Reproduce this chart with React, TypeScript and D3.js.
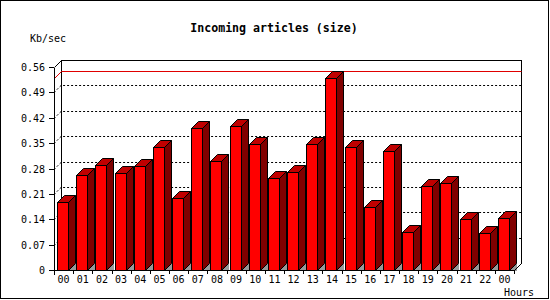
import React from "react";
import * as d3 from "d3";

const hourLabels = ["00","01","02","03","04","05","06","07","08","09","10","11","12","13","14","15","16","17","18","19","20","21","22","00"];
const sizeValues = [0.187,0.262,0.291,0.267,0.287,0.340,0.200,0.393,0.300,0.397,0.348,0.253,0.270,0.348,0.529,0.340,0.173,0.327,0.105,0.231,0.239,0.140,0.101,0.143];
const yTickValues = [0,0.07,0.14,0.21,0.28,0.35,0.42,0.49,0.56];
const yTickLabels = ["0","0.07","0.14","0.21","0.28","0.35","0.42","0.49","0.56"];

const W = 550, H = 300;
const X0 = 54, X1 = 514, Y0 = 270, YT = 67, D = 7;
const FONT = "'DejaVu Sans Mono', monospace";

export default function App() {
  const x = d3.scaleBand<number>().domain(hourLabels.map((_, i) => i)).range([X0, X1]);
  const y = d3.scaleLinear().domain([0, 0.56]).range([Y0, YT]);
  const maxV = d3.max(sizeValues) as number;
  const p = (v: number) => Math.round(v) + 0.5;

  return (
    <svg width={W} height={H} style={{ position: "absolute", left: 0, top: 0, background: "#fff" }} shapeRendering="crispEdges">
      <rect x={0.5} y={0.5} width={548} height={298} fill="#fff" stroke="#000" />
      {/* title */}
      <text x={274} y={32} textAnchor="middle" fontFamily={FONT} fontWeight="bold" fontSize={11.6} fill="#000">Incoming articles (size)</text>
      <text x={30} y={42} fontFamily={FONT} fontSize={10} fill="#000">Kb/sec</text>
      <text x={534} y={296} textAnchor="end" fontFamily={FONT} fontSize={10} fill="#000">Hours</text>

      {/* back plane */}
      <rect x={p(X0 + D)} y={p(YT - D)} width={X1 - X0} height={Y0 - YT} fill="#fff" stroke="none" />
      {/* grid lines */}
      {yTickValues.slice(1, -1).map((v, i) => (
        <polyline key={"g" + i}
          points={`${X0},${p(y(v))} ${X0 + D},${p(y(v) - D)} ${X1 + D},${p(y(v) - D)}`}
          fill="none" stroke="#000" strokeDasharray="2 2" shapeRendering="auto" />
      ))}
      {/* back plane border */}
      <polyline points={`${p(X0 + D)},${p(Y0 - D)} ${p(X0 + D)},${p(YT - D)} ${p(X1 + D)},${p(YT - D)} ${p(X1 + D)},${p(Y0 - D)}`} fill="none" stroke="#000" />
      <line x1={p(X0)} y1={p(YT)} x2={p(X0 + D)} y2={p(YT - D)} stroke="#000" shapeRendering="auto" />
      {/* max line */}
      <polyline points={`${p(X0)},${p(y(maxV))} ${p(X0 + D)},${p(y(maxV) - D)} ${p(X1 + D)},${p(y(maxV) - D)}`} fill="none" stroke="#e00000" shapeRendering="auto" />

      {/* bars */}
      {sizeValues.map((v, i) => {
        const xl = Math.round((x(i) as number) + 3) + 0.5;
        const xr = xl + 11;
        const yt = Math.round(y(v)) + 0.5;
        const yb = Y0 + 0.5;
        return (
          <g key={"b" + i} stroke="#000" strokeLinejoin="miter">
            <polygon points={`${xr},${yb} ${xr + D},${yb - D} ${xr + D},${yb}`} fill="#999" stroke="none" />
            <polygon points={`${xr},${yb} ${xr},${yt} ${xr + D},${yt - D} ${xr + D},${yb - D}`} fill="#800000" shapeRendering="auto" />
            <polygon points={`${xl},${yt} ${xl + D},${yt - D} ${xr + D},${yt - D} ${xr},${yt}`} fill="#c00000" shapeRendering="auto" />
            <rect x={xl} y={yt} width={11} height={yb - yt} fill="#ff0000" />
          </g>
        );
      })}

      {/* floor right edge */}
      <line x1={p(X1)} y1={p(Y0)} x2={p(X1 + D)} y2={p(Y0 - D)} stroke="#000" shapeRendering="auto" />
      {/* front axes */}
      <line x1={p(X0)} y1={p(YT)} x2={p(X0)} y2={p(Y0 + 4)} stroke="#000" />
      <line x1={p(X0)} y1={p(Y0)} x2={p(X1)} y2={p(Y0)} stroke="#000" />
      {yTickValues.map((v, i) => (
        <g key={"yt" + i}>
          <line x1={X0 - 5} x2={X0} y1={p(y(v))} y2={p(y(v))} stroke="#000" />
          <text x={45} y={Math.round(y(v)) + 4} textAnchor="end" fontFamily={FONT} fontSize={10} fill="#000">{yTickLabels[i]}</text>
        </g>
      ))}
      {hourLabels.map((lab, i) => (
        <g key={"xt" + i}>
          <line x1={p((x(i) as number) + x.bandwidth())} x2={p((x(i) as number) + x.bandwidth())} y1={Y0} y2={Y0 + 4} stroke="#000" />
          <text x={(x(i) as number) + x.bandwidth() / 2} y={283} textAnchor="middle" fontFamily={FONT} fontSize={10} fill="#000">{lab}</text>
        </g>
      ))}
    </svg>
  );
}
